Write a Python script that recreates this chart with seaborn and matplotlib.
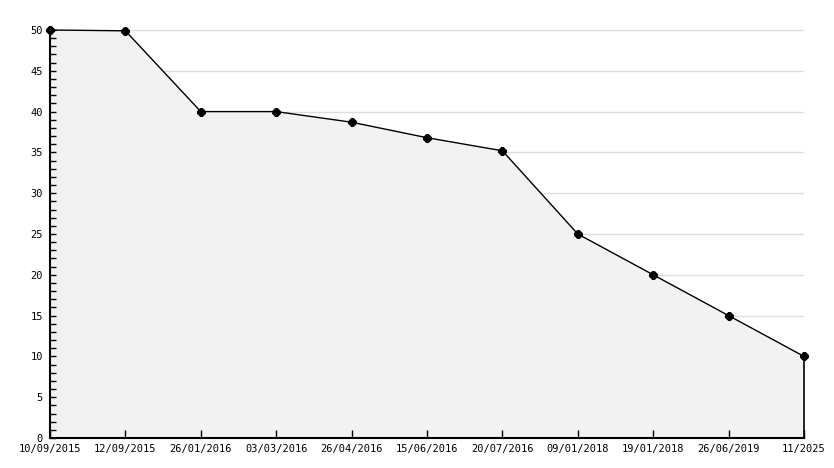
import matplotlib
matplotlib.use("Agg")
import matplotlib.pyplot as plt
import seaborn as sns
import pandas as pd
from matplotlib.ticker import MultipleLocator

# Data
dates = ["10/09/2015", "12/09/2015", "26/01/2016", "03/03/2016", "26/04/2016",
         "15/06/2016", "20/07/2016", "09/01/2018", "19/01/2018", "26/06/2019",
         "11/2025"]
values = [50, 49.9, 40, 40, 38.7, 36.8, 35.2, 25, 20, 15, 10]

df = pd.DataFrame({"pos": range(len(dates)), "date": dates, "value": values})

sns.set_style("ticks")
plt.rcParams["font.family"] = ["DejaVu Sans Mono"]

fig = plt.figure(figsize=(8.34, 4.68), dpi=100)
ax = fig.add_axes([50 / 834, 30 / 468, 754 / 834, 408 / 468])
ax.set_axisbelow(False)  # ticks must sit on top of the filled area

# light grid lines behind the area
for y in range(5, 51, 5):
    ax.axhline(y, color="#dddddd", lw=1, zorder=0)

ax.fill_between(df["pos"], df["value"], 0, color="#f2f2f2", lw=0, zorder=1)
ax.vlines(df["pos"].iloc[-1], 0, df["value"].iloc[-1], color="black", lw=1.2,
          zorder=2, clip_on=False)

sns.lineplot(data=df, x="pos", y="value", ax=ax, color="black", lw=1,
             marker="8", markersize=5.5, markeredgecolor="black", zorder=3,
             clip_on=False)

ax.set_xlim(0, len(dates) - 1)
ax.set_ylim(0, 50)
ax.set_xticks(df["pos"])
ax.set_xticklabels(dates)
ax.yaxis.set_major_locator(MultipleLocator(5))
ax.yaxis.set_minor_locator(MultipleLocator(1))
ax.set_xlabel("")
ax.set_ylabel("")

for side in ["top", "right"]:
    ax.spines[side].set_visible(False)
for side in ["left", "bottom"]:
    ax.spines[side].set_color("black")
    ax.spines[side].set_linewidth(1.5)

ax.tick_params(axis="y", which="both", direction="in", length=4, width=1,
               color="black", labelsize=7.5, labelcolor="black", pad=5)
ax.tick_params(axis="x", which="major", direction="in", length=6, width=1,
               color="black", labelsize=7.5, labelcolor="black", pad=4)
ax.tick_params(axis="x", which="minor", bottom=False)

fig.savefig("out.png", dpi=100, facecolor="white")
